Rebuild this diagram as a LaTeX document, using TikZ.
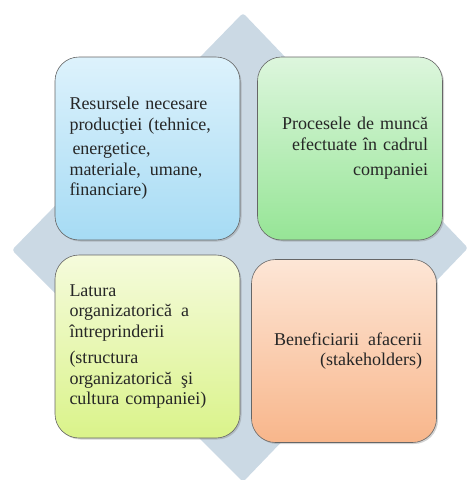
\documentclass[tikz,border=0pt]{standalone}
\usepackage{fontspec}
\setmainfont{Liberation Serif}[WordSpace=0.7]
\usetikzlibrary{shadows}

\definecolor{diamondgrey}{HTML}{CBD9E4}
\definecolor{bluetop}{HTML}{DDF2FC}
\definecolor{bluebot}{HTML}{A6DBF4}
\definecolor{greentop}{HTML}{DDF6DD}
\definecolor{greenbot}{HTML}{96E596}
\definecolor{limetop}{HTML}{F5FBDC}
\definecolor{limebot}{HTML}{DAF38A}
\definecolor{peachtop}{HTML}{FDE6D6}
\definecolor{peachbot}{HTML}{F8B68B}

\begin{document}
\begin{tikzpicture}[
  x=1pt,y=-1pt,
  font=\fontsize{18}{20.5}\selectfont,
  card/.style={draw=black!60,line width=0.6pt,rounded corners=24pt,
    minimum width=185pt,minimum height=183pt,inner sep=0pt,
    drop shadow={shadow xshift=1.5pt,shadow yshift=-1.5pt,opacity=.35},
    text=black!85,text width=156pt},
  leftcard/.style={card,align=left},
  rightcard/.style={card,align=right}
]

\useasboundingbox (0,0) rectangle (470,480);

% backdrop
\fill[diamondgrey,rounded corners=3pt] (243,13) -- (468,248) -- (243,482) -- (12,250) -- cycle;

\node[leftcard,top color=bluetop,bottom color=bluebot] (res) at (147.5,148.5)
  {Resursele necesare\\ producţiei (tehnice,\\[4pt]
   \,energetice,\\ materiale, \,umane,\\ financiare)};
\node[rightcard,top color=greentop,bottom color=greenbot] (proc) at (350,148.5)
  {Procesele de muncă\\ efectuate în cadrul\\[5pt] companiei};
\node[leftcard,top color=limetop,bottom color=limebot] (lat) at (147.5,346.5)
  {Latura\\ organizatorică \,a\\ întreprinderii\\[6pt]
   (structura\\ organizatorică \,şi\\ cultura companiei)};
\node[rightcard,top color=peachtop,bottom color=peachbot] (ben) at (344,351)
  {Beneficiarii \,afacerii\\ (stakeholders)};
\end{tikzpicture}
\end{document}
